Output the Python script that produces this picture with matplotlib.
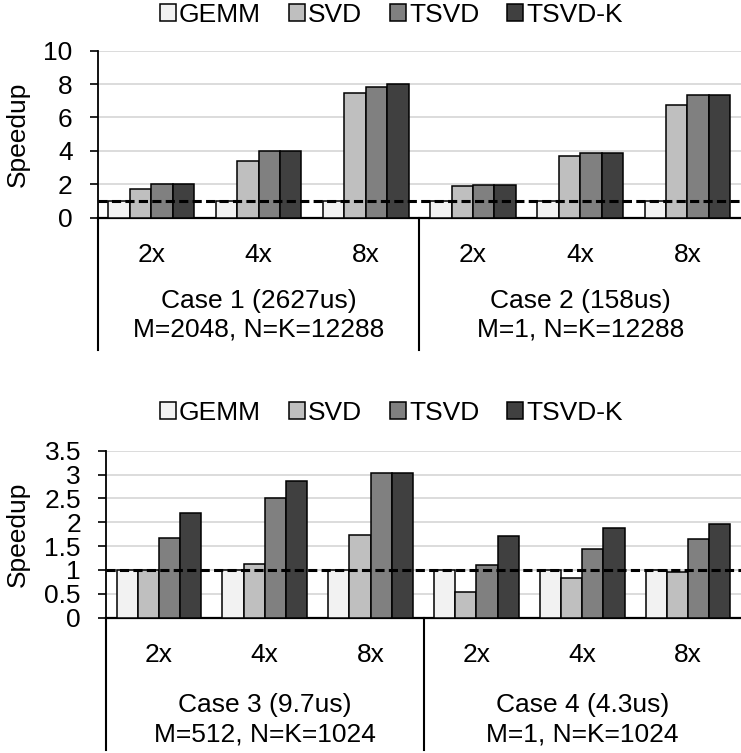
import numpy as np
import matplotlib.pyplot as plt

plt.rcParams['font.family'] = ['Liberation Sans', 'DejaVu Sans']
plt.rcParams['font.size'] = 19

series = ['GEMM', 'SVD', 'TSVD', 'TSVD-K']
colors = ['#F2F2F2', '#BFBFBF', '#808080', '#404040']
ratios = ['2x', '4x', '8x', '2x', '4x', '8x']

# case 1 / case 2
top_cases = ['Case 1 (2627us)\nM=2048, N=K=12288', 'Case 2 (158us)\nM=1, N=K=12288']
top_gemm = [1, 1, 1, 1, 1, 1]
top_svd = [1.7, 3.4, 7.48, 1.9, 3.7, 6.74]
top_tsvd = [2.0, 3.98, 7.82, 1.98, 3.86, 7.34]
top_tsvdk = [2.02, 4.0, 7.98, 1.98, 3.86, 7.36]
top_ticks = [0, 2, 4, 6, 8, 10]
top_ticklabels = ['0', '2', '4', '6', '8', '10']

# case 3 / case 4
bot_cases = ['Case 3 (9.7us)\nM=512, N=K=1024', 'Case 4 (4.3us)\nM=1, N=K=1024']
bot_gemm = [1, 1, 1, 1, 1, 0.99]
bot_svd = [1.0, 1.13, 1.74, 0.53, 0.84, 0.95]
bot_tsvd = [1.68, 2.5, 3.04, 1.11, 1.44, 1.65]
bot_tsvdk = [2.2, 2.86, 3.04, 1.72, 1.88, 1.96]
bot_ticks = [0, 0.5, 1, 1.5, 2, 2.5, 3, 3.5]
bot_ticklabels = ['0', '0.5', '1', '1.5', '2', '2.5', '3', '3.5']

W, H = 741, 753
fig = plt.figure(figsize=(W / 100, H / 100), dpi=100)


def panel(left_px, bottom_px, data, ticks, ticklabels, cases, leg_y,
          case_y, case_gap, line_y):
    ax = fig.add_axes([left_px / W, 1 - bottom_px / H, (W - left_px) / W, 167 / H])
    x = np.arange(len(ratios))
    width = 0.2
    bars = []
    for i, vals in enumerate(data):
        b = ax.bar(x + (i - 1.5) * width, vals, width, color=colors[i],
                   edgecolor='black', linewidth=1.1, zorder=3, label=series[i])
        bars.append(b)
    ax.axhline(1, color='black', linestyle=(0, (3, 1.4)), linewidth=2.2, zorder=4)
    ax.set_xlim(-0.5, 5.5)
    ax.set_ylim(0, ticks[-1])
    ax.set_yticks(ticks)
    ax.set_yticklabels(ticklabels)
    ax.set_xticks([])
    ax.yaxis.grid(True, color='#D9D9D9', linewidth=1.3, zorder=0)
    ax.tick_params(axis='y', length=6, width=1.2, pad=12)
    for s in ['top', 'right']:
        ax.spines[s].set_visible(False)
    ax.spines['left'].set_linewidth(1.3)
    ax.spines['bottom'].set_linewidth(1.6)
    ax.set_ylabel('Speedup')
    ax.yaxis.set_label_coords(-(left_px - 30) / (W - left_px), 0.5)

    tr = ax.get_xaxis_transform()
    for xi, lab in zip(x, ratios):
        ax.text(xi, -0.263, lab, transform=tr, ha='center', va='baseline')
    for k, txt in enumerate(cases):
        l1, l2 = txt.split('\n')
        ax.text(1 + 3 * k, case_y, l1, transform=tr, ha='center', va='baseline')
        ax.text(1 + 3 * k, case_y - case_gap, l2, transform=tr, ha='center',
                va='baseline')
    for xs in [-0.5, 2.5]:
        ax.plot([xs, xs], [0, line_y], transform=tr, color='black',
                linewidth=1.5, clip_on=False)

    fig.legend(handles=bars, labels=series, loc='center',
               bbox_to_anchor=(0.528, 1 - leg_y / H), ncol=4, frameon=False,
               handlelength=0.6, handleheight=0.6, handletextpad=0.13,
               columnspacing=1.05, borderaxespad=0)
    return ax


panel(97.7, 217.7, [top_gemm, top_svd, top_tsvd, top_tsvdk], top_ticks,
      top_ticklabels, top_cases, 15, -0.541, 0.172, -0.792)
panel(106, 617.7, [bot_gemm, bot_svd, bot_tsvd, bot_tsvdk], bot_ticks,
      bot_ticklabels, bot_cases, 413, -0.563, 0.18, -0.793)

fig.savefig('out.png', dpi=100)
